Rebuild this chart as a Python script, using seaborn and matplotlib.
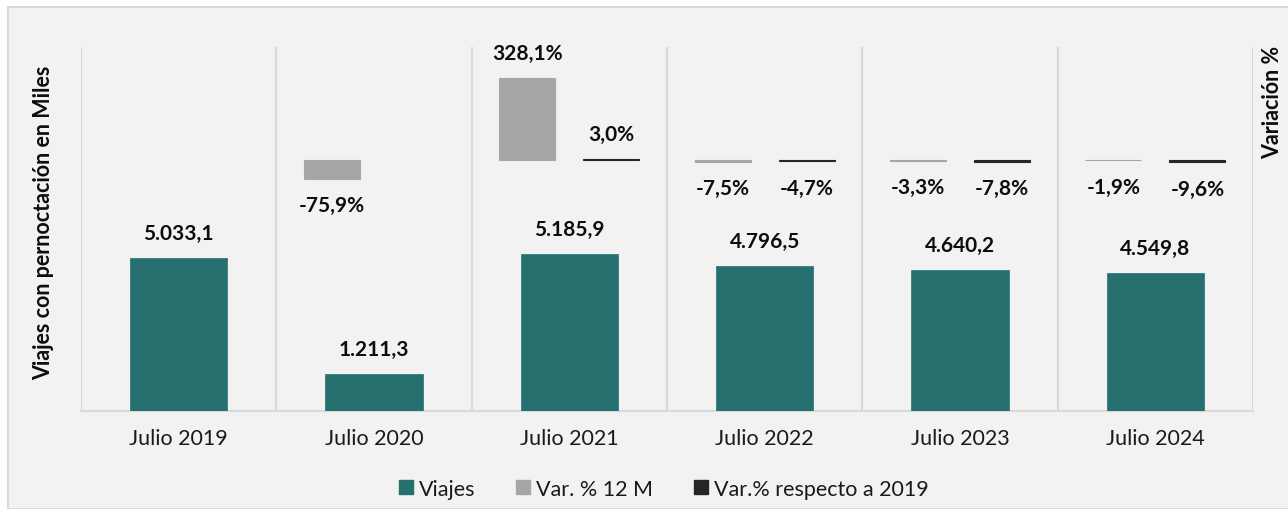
import numpy as np
import pandas as pd
import matplotlib
matplotlib.use("Agg")
import matplotlib.pyplot as plt
from matplotlib.patches import Patch, Rectangle
import seaborn as sns

categories = ["Julio 2019", "Julio 2020", "Julio 2021", "Julio 2022", "Julio 2023", "Julio 2024"]
viajes = [5033.1, 1211.3, 5185.9, 4796.5, 4640.2, 4549.8]
var_12m = [np.nan, -75.9, 328.1, -7.5, -3.3, -1.9]
var_2019 = [np.nan, np.nan, 3.0, -4.7, -7.8, -9.6]
series_names = ["Viajes", "Var. % 12 M", "Var.% respecto a 2019"]

C_TEAL = "#267070"
C_GREY = "#a6a6a6"
C_DARK = "#262626"
C_GRID = "#d9d9d9"
C_BG = "#f2f2f2"

sns.set_theme(style="white")
plt.rcParams["font.family"] = ["Lato", "DejaVu Sans"]

W, H = 1288, 510
fig = plt.figure(figsize=(W / 100, H / 100), dpi=100, facecolor="white")
fig.patches.append(Rectangle((8 / W, 0), 1, 1 - 8 / H, transform=fig.transFigure,
                             facecolor=C_BG, edgecolor=C_GRID, linewidth=1.5, zorder=-10))
ax = fig.add_axes([81 / W, 1 - 412 / H, (1253 - 81) / W, (412 - 48) / H])
ax.set_facecolor("none")

df_v = pd.DataFrame({"cat": categories, "val": viajes})
sns.barplot(data=df_v, x="cat", y="val", order=categories, color=C_TEAL, width=0.5,
            saturation=1, ax=ax, zorder=3, edgecolor=C_TEAL, linewidth=0.5)
ax.set_ylim(0, 12000)

ax2 = ax.twinx()
ax2.set_facecolor("none")
df_p = pd.DataFrame({
    "cat": categories * 2,
    "serie": [series_names[1]] * 6 + [series_names[2]] * 6,
    "val": var_12m + var_2019,
})
sns.barplot(data=df_p, x="cat", y="val", hue="serie", order=categories,
            hue_order=series_names[1:], palette=[C_GREY, C_DARK], width=0.86, gap=0.337,
            saturation=1, ax=ax2, legend=False, zorder=3, linewidth=0.8)
for p in ax2.patches:
    p.set_edgecolor(p.get_facecolor())
ax2.set_ylim(-1000, 450)

def fmt_num(v):
    s = f"{v:,.1f}"
    return s.replace(",", "X").replace(".", ",").replace("X", ".")

def fmt_pct(v):
    return f"{v:.1f}%".replace(".", ",")

LBL = dict(fontsize=15, fontweight="bold", color="#0d0d0d", ha="center", va="center")

for p, v in zip(ax.patches, viajes):
    x = p.get_x() + p.get_width() / 2
    ax.annotate(fmt_num(v), (x, p.get_height()), xytext=(0, 18), textcoords="offset points", **LBL)

for p in ax2.patches:
    h = p.get_height()
    if np.isnan(h) or p.get_width() == 0:
        continue
    x = p.get_x() + p.get_width() / 2
    off = 18 if h >= 0 else -19
    ax2.annotate(fmt_pct(h), (x, h), xytext=(0, off), textcoords="offset points", **LBL)

for a in (ax, ax2):
    for s in a.spines.values():
        s.set_visible(False)
    a.set_yticks([])
    a.set_xlabel("")

ax.spines["bottom"].set_visible(True)
ax.spines["bottom"].set_color(C_GRID)
ax.spines["bottom"].set_linewidth(1.5)
ax.set_xlim(-0.5, 5.5)
ax.set_xticks(range(len(categories)))
ax.set_xticklabels(categories, fontsize=15.5, color="#1a1a1a")
ax.set_xticks(np.arange(-0.5, len(categories), 1), minor=True)
ax.tick_params(axis="x", which="major", length=0, pad=12)
ax.tick_params(axis="x", which="minor", length=8, width=1.5, color=C_GRID, direction="out")
ax.grid(False)
ax.grid(True, which="minor", axis="x", color=C_GRID, linewidth=1.5, zorder=0)
ax2.grid(False)

ax.set_ylabel("Viajes con pernoctación en Miles", fontsize=15.5, fontweight="bold",
              color="#0d0d0d", va="center", ha="center")
ax.yaxis.set_label_coords((44 - 81) / 1172, 0.52)
ax2.set_ylabel("Variación %", fontsize=15.5, fontweight="bold", color="#0d0d0d",
               rotation=90, va="center", ha="center")
ax2.yaxis.set_label_coords((1273 - 81) / 1172, (412 - 102) / 364)

handles = [Patch(facecolor=c, edgecolor=c) for c in (C_TEAL, C_GREY, C_DARK)]
fig.legend(handles, series_names, loc="center", bbox_to_anchor=(664 / W, 1 - 490 / H), ncol=3,
           frameon=False, fontsize=15.5, handlelength=0.62, handleheight=0.62, handletextpad=0.3,
           columnspacing=1.9, labelcolor="#1a1a1a")

fig.savefig("out.png", dpi=100, facecolor="white")
